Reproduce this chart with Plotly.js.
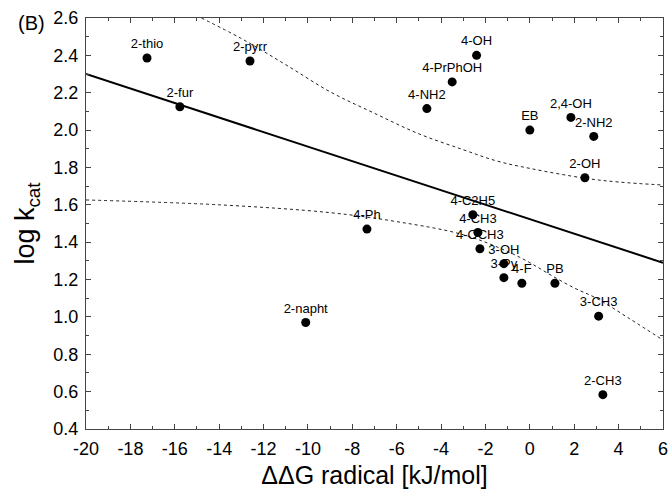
<!DOCTYPE html>
<html>
<head>
<meta charset="utf-8">
<script src="https://cdn.plot.ly/plotly-3.0.1.min.js"></script>
<style>html,body{margin:0;padding:0;background:#fff;}#chart{width:670px;height:492px;}</style>
</head>
<body>
<div id="chart"></div>
<script>
// Compound labels and values
const names = ["2-thio","2-fur","2-pyrr","4-OH","4-PrPhOH","4-NH2","EB","2,4-OH","2-NH2","2-OH","4-C2H5","4-CH3","4-OCH3","3-OH","3-Py","4-F","PB","3-CH3","2-CH3","4-Ph","2-napht"];
const ddG =   [-17.25,-15.77,-12.61,-2.40,-3.50,-4.64,0.00,1.85,2.88,2.48,-2.57,-2.34,-2.25,-1.17,-1.17,-0.36,1.13,3.10,3.29,-7.34,-10.10];
const logk =  [2.386,2.125,2.370,2.400,2.258,2.115,2.000,2.068,1.966,1.745,1.547,1.452,1.365,1.285,1.210,1.180,1.180,1.004,0.584,1.470,0.970];

// Regression line (read endpoints)
const fitX = [-20, 6];
const fitY = [2.30, 1.29];

// Confidence band curves
const upX = [-14.8,-13,-11,-9,-7,-5,-3,-1.5,0,2.5,4,6];
const upY = [2.60,2.49,2.35,2.205,2.09,1.98,1.895,1.835,1.795,1.742,1.722,1.706];
const loX = [-20,-14,-9,-6,-3,-1,0,1,2,3,4.5,6];
const loY = [1.626,1.60,1.558,1.51,1.44,1.35,1.29,1.22,1.155,1.10,0.99,0.876];

const xTicks = [-20,-18,-16,-14,-12,-10,-8,-6,-4,-2,0,2,4,6];
const yTicks = [0.4,0.6,0.8,1.0,1.2,1.4,1.6,1.8,2.0,2.2,2.4,2.6];

const FONT = "Liberation Sans, Arial, Helvetica, sans-serif";

const traces = [
  {x: upX, y: upY, mode: "lines", line: {color: "#222", width: 1, dash: "dot", shape: "spline", smoothing: 1}, hoverinfo: "skip"},
  {x: loX, y: loY, mode: "lines", line: {color: "#222", width: 1, dash: "dot", shape: "spline", smoothing: 1}, hoverinfo: "skip"},
  {x: fitX, y: fitY, mode: "lines", line: {color: "#000", width: 2}},
  {x: ddG, y: logk, text: names, mode: "markers+text", textposition: "top center",
   textfont: {family: FONT, size: 13, color: "#000"},
   marker: {color: "#000", size: 9}, cliponaxis: false}
];

const axisCommon = {
  showgrid: false, zeroline: false, showline: true, linecolor: "#444", linewidth: 1,
  mirror: "ticks", ticks: "inside", ticklen: 5, tickcolor: "#444",
  ticklabelstandoff: 3,
  tickfont: {family: FONT, size: 18, color: "#000"}
};

const layout = {
  width: 670, height: 492,
  margin: {l: 86, r: 7, t: 18, b: 63},
  paper_bgcolor: "#fff", plot_bgcolor: "#fff",
  showlegend: false,
  font: {family: FONT, color: "#000"},
  xaxis: Object.assign({}, axisCommon, {
    range: [-20, 6], tickvals: xTicks, ticktext: xTicks.map(String),
    minor: {dtick: 1, ticks: "inside", ticklen: 3, tickcolor: "#444"},
    title: {text: "ΔΔG radical [kJ/mol]", font: {family: FONT, size: 25}, standoff: 8}
  }),
  yaxis: Object.assign({}, axisCommon, {
    range: [0.4, 2.6], tickvals: yTicks, ticktext: yTicks.map(v => v.toFixed(1)),
    minor: {dtick: 0.1, ticks: "inside", ticklen: 3, tickcolor: "#444"},
    title: {text: "log k<sub>cat</sub>", font: {family: FONT, size: 27}, standoff: 10}
  }),
  annotations: [
    {text: "(B)", xref: "paper", yref: "paper", x: -0.122, y: 1.02, xanchor: "left", yanchor: "top",
     showarrow: false, font: {family: FONT, size: 20, color: "#000"}}
  ]
};

Plotly.newPlot("chart", traces, layout, {displayModeBar: false, staticPlot: true});
</script>
</body>
</html>
